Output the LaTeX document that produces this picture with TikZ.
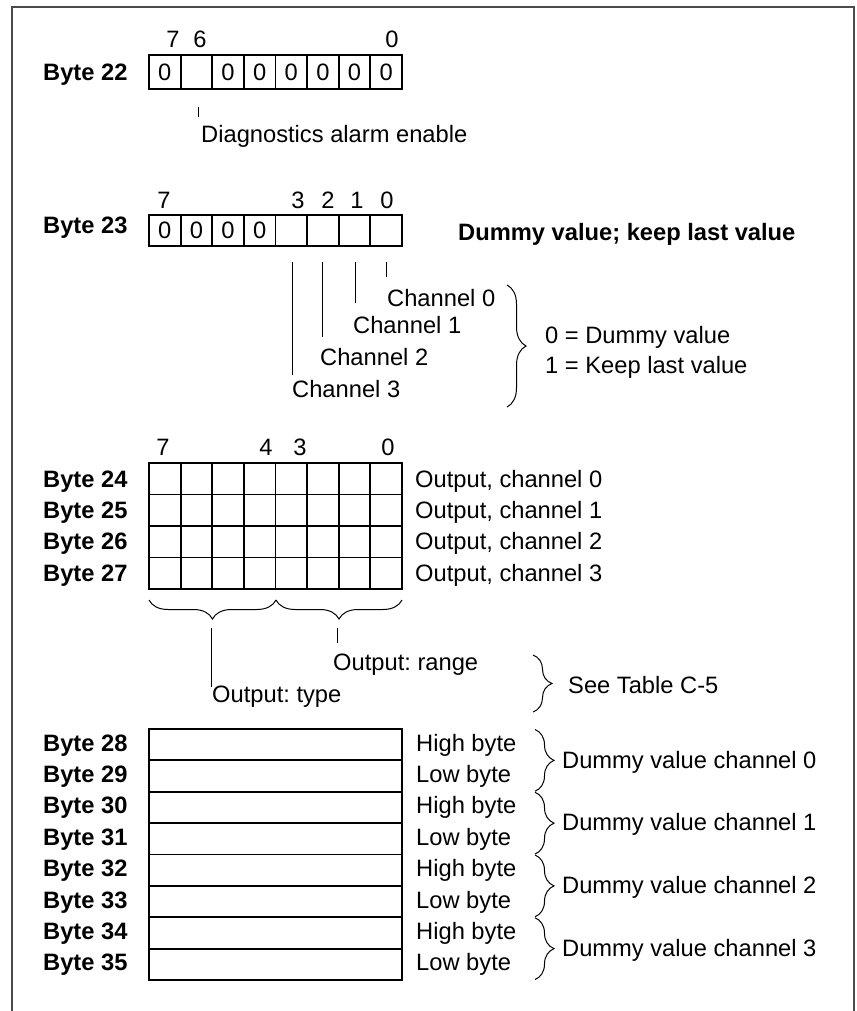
\documentclass[tikz,border=0pt]{standalone}
\usepackage{fontspec}
\setmainfont{Liberation Sans}
\usetikzlibrary{decorations.pathreplacing}
\frenchspacing
\begin{document}
\begin{tikzpicture}[x=1pt,y=-1pt,
  txt/.style={font=\fontsize{23.7}{28}\selectfont, inner sep=0pt, anchor=base west},
  btxt/.style={font=\fontsize{23.7}{28}\selectfont\bfseries, inner sep=0pt, anchor=base west},
  dig/.style={font=\fontsize{23.7}{28}\selectfont, inner sep=0pt, anchor=base},
  cdig/.style={font=\fontsize{23.7}{28}\selectfont, inner sep=0pt, anchor=center},
  cellline/.style={line width=1.8pt},
  tickline/.style={line width=1pt},
  brc/.style={decorate, decoration={brace, amplitude=19pt}, line width=1pt},
  frameline/.style={line width=1.8pt, black!70}]

\useasboundingbox (0,0) rectangle (856,1011);
\draw[frameline] (12,1011) -- (12,7) -- (854,7) -- (854,1011);

% ---------- Byte 22
\node[btxt] (b22) at (43,80.5) {Byte 22};
\draw[cellline] (149,55) rectangle (402,89);
\foreach \i in {1,...,7} \draw[cellline] (149+\i*31.625,55) -- (149+\i*31.625,89);
\foreach \i in {0,2,3,4,5,6,7} \node[cdig] (z22\i) at (164.8+\i*31.625,72) {0};
\node[dig] (h22a) at (173,48) {7};
\node[dig] (h22b) at (200,48) {6};
\node[dig] (h22c) at (392,48) {0};
\coordinate (d22a) at (198,107);
\coordinate (d22b) at (198,117);
\draw[tickline] (d22a) -- (d22b);
\node[txt] (diag) at (201,143) {Diagnostics alarm enable};

% ---------- Byte 23
\node[btxt] (b23) at (43,233) {Byte 23};
\draw[cellline] (149,215) rectangle (402,246);
\foreach \i in {1,...,7} \draw[cellline] (149+\i*31.625,215) -- (149+\i*31.625,246);
\foreach \i in {0,1,2,3} \node[cdig] (z23\i) at (164.8+\i*31.625,230.5) {0};
\node[dig] (h23a) at (164,208) {7};
\node[dig] (h23b) at (298,208) {3};
\node[dig] (h23c) at (328,208) {2};
\node[dig] (h23d) at (357,208) {1};
\node[dig] (h23e) at (387,208) {0};
\node[btxt] (dummyhead) at (458,240) {Dummy value; keep last value};

\node[txt] (ch0) at (387,306) {Channel 0};
\node[txt] (ch1) at (353,333) {Channel 1};
\node[txt] (ch2) at (320,365) {Channel 2};
\node[txt] (ch3) at (292,397) {Channel 3};
\draw[tickline] (386,262) -- (386,277);
\draw[tickline] (355,262) -- (355,303);
\draw[tickline] (322,262) -- (322,337);
\draw[tickline] (292,262) -- (292,375);
\draw[brc] (507,285) -- (507,407);
\node[txt] (v0) at (545,343) {0 = Dummy value};
\node[txt] (v1) at (545,373) {1 = Keep last value};

% ---------- Bytes 24..27
\node[dig] (h24a) at (163,455) {7};
\node[dig] (h24b) at (266,455) {4};
\node[dig] (h24c) at (300,455) {3};
\node[dig] (h24d) at (388,455) {0};
\draw[cellline] (149,463) rectangle (402,589);
\foreach \i in {1,...,7} \draw[cellline] (149+\i*31.625,463) -- (149+\i*31.625,589);
\foreach \j in {1,2,3} \draw[cellline] (149,463+\j*31.5) -- (402,463+\j*31.5);
\foreach \j/\n in {0/24,1/25,2/26,3/27} {
  \node[btxt] (b\n) at (43,487+\j*31.4) {Byte \n};
  \node[txt] (o\n) at (415,487+\j*31.4) {Output, channel \j};
}
\draw[brc] (276,600) -- (149,600);
\draw[brc] (402,600) -- (276,600);
\draw[tickline] (211,628) -- (211,687);
\draw[tickline] (337,628) -- (337,643);
\node[txt] (orange) at (333,670) {Output: range};
\node[txt] (otype) at (212,702) {Output: type};
\draw[brc] (533,655) -- (533,712);
\node[txt] (seetab) at (568,693) {See Table C-5};

% ---------- Bytes 28..35
\draw[cellline] (149,729) rectangle (402,980);
\foreach \j in {1,...,7} \draw[cellline] (149,729+\j*31.375) -- (402,729+\j*31.375);
\foreach \j/\n/\hl in {0/28/High byte,1/29/Low byte,2/30/High byte,3/31/Low byte,4/32/High byte,5/33/Low byte,6/34/High byte,7/35/Low byte} {
  \node[btxt] (b\n) at (43,751+\j*31.4) {Byte \n};
  \node[txt] (hl\n) at (416,751+\j*31.4) {\hl};
}
\foreach \k in {0,1,2,3} {
  \draw[brc] (535,729+\k*62.75+0.5) -- (535,729+\k*62.75+62.25);
  \node[txt] (dv\k) at (562,768+\k*62.75) {Dummy value channel \k};
}
\end{tikzpicture}
\end{document}
